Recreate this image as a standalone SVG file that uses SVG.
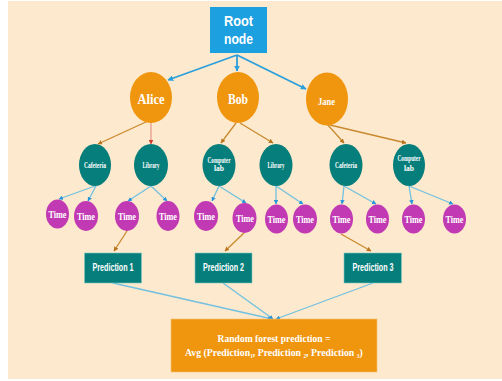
<svg xmlns="http://www.w3.org/2000/svg" width="502" height="381" viewBox="0 0 502 381">
  <style>
    .root { fill: #1CA0E0; }
    .lvl1 { fill: #F0960E; }
    .lvl2 { fill: #067E7B; }
    .lvl3 { fill: #C13AB3; }
    .pred { fill: #067E7B; stroke: #7FC9C6; stroke-width: 0.6; }
    .final { fill: #F0960E; stroke: #F7C37A; stroke-width: 0.6; }
    .sans { font-family: "Liberation Sans", Arial, sans-serif; font-weight: bold; fill: #FFFFFF; }
    .serif { font-family: "Liberation Serif", "Times New Roman", serif; font-weight: bold; fill: #FFFFFF; }
    .blue { stroke: #2A9FDD; stroke-width: 1.8; fill: none; }
    .brown { stroke: #C9892E; stroke-width: 1.3; fill: none; }
    .red { stroke: #E8958A; stroke-width: 1.2; fill: none; }
    .lblue { stroke: #72C1E0; stroke-width: 1.3; fill: none; }
  </style>
  <defs>
    <marker id="hBlue" viewBox="0 0 10 10" refX="9" refY="5" markerWidth="3.2" markerHeight="3.2" orient="auto" markerUnits="strokeWidth">
      <path d="M0,0 L10,5 L0,10 z" fill="#2A9FDD"/>
    </marker>
    <marker id="hBrown" viewBox="0 0 10 10" refX="9" refY="5" markerWidth="3.6" markerHeight="3.6" orient="auto" markerUnits="strokeWidth">
      <path d="M0,0 L10,5 L0,10 z" fill="#B8741C"/>
    </marker>
    <marker id="hRed" viewBox="0 0 10 10" refX="9" refY="5" markerWidth="3.8" markerHeight="3.8" orient="auto" markerUnits="strokeWidth">
      <path d="M0,0 L10,5 L0,10 z" fill="#D23A2A"/>
    </marker>
    <marker id="hLBlue" viewBox="0 0 10 10" refX="9" refY="5" markerWidth="3.4" markerHeight="3.4" orient="auto" markerUnits="strokeWidth">
      <path d="M0,0 L10,5 L0,10 z" fill="#2A95D8"/>
    </marker>
  </defs>

  <!-- backdrop -->
  <rect x="8" y="1" width="494" height="378" fill="#FDE9CD"/>

  <!-- connectors -->
  <g id="connectors">
    <line class="blue" x1="237" y1="55" x2="168" y2="80" marker-end="url(#hBlue)"/>
    <line class="blue" x1="237" y1="55" x2="237" y2="71" marker-end="url(#hBlue)"/>
    <line class="blue" x1="237" y1="55" x2="306" y2="89" marker-end="url(#hBlue)"/>

    <line class="brown" x1="148" y1="121" x2="98" y2="144" marker-end="url(#hBrown)"/>
    <line class="red" x1="151" y1="122" x2="151" y2="144" marker-end="url(#hRed)"/>
    <line class="brown" x1="236" y1="123" x2="221" y2="143" marker-end="url(#hBrown)"/>
    <line class="brown" x1="240" y1="123" x2="273" y2="143" marker-end="url(#hBrown)"/>
    <line class="brown" x1="327" y1="124" x2="344" y2="143" marker-end="url(#hBrown)"/>
    <line class="brown" x1="330" y1="125" x2="406" y2="143" marker-end="url(#hBrown)"/>

    <line class="lblue" x1="95" y1="186" x2="59" y2="199" marker-end="url(#hLBlue)"/>
    <line class="lblue" x1="96" y1="186" x2="88" y2="201" marker-end="url(#hLBlue)"/>
    <line class="lblue" x1="151" y1="186" x2="128" y2="201" marker-end="url(#hLBlue)"/>
    <line class="lblue" x1="151" y1="186" x2="167" y2="201" marker-end="url(#hLBlue)"/>
    <line class="lblue" x1="219" y1="186" x2="212" y2="201" marker-end="url(#hLBlue)"/>
    <line class="lblue" x1="219" y1="186" x2="246" y2="203" marker-end="url(#hLBlue)"/>
    <line class="lblue" x1="276" y1="186" x2="276" y2="204" marker-end="url(#hLBlue)"/>
    <line class="lblue" x1="276" y1="186" x2="303" y2="204" marker-end="url(#hLBlue)"/>
    <line class="lblue" x1="344" y1="186" x2="342" y2="204" marker-end="url(#hLBlue)"/>
    <line class="lblue" x1="344" y1="186" x2="376" y2="204" marker-end="url(#hLBlue)"/>
    <line class="lblue" x1="409" y1="186" x2="412" y2="204" marker-end="url(#hLBlue)"/>
    <line class="lblue" x1="409" y1="186" x2="453" y2="204" marker-end="url(#hLBlue)"/>

    <line class="brown" x1="127" y1="231" x2="114" y2="251" marker-end="url(#hBrown)"/>
    <line class="brown" x1="244" y1="233" x2="225" y2="251" marker-end="url(#hBrown)"/>
    <line class="brown" x1="341" y1="234" x2="371" y2="251" marker-end="url(#hBrown)"/>

    <line class="lblue" x1="113" y1="283" x2="272" y2="319" marker-end="url(#hLBlue)"/>
    <line class="lblue" x1="223" y1="283" x2="273" y2="319" marker-end="url(#hLBlue)"/>
    <line class="lblue" x1="373" y1="283" x2="276" y2="319" marker-end="url(#hLBlue)"/>
  </g>

  <!-- root -->
  <g id="root-node">
    <rect class="root" x="210" y="7" width="57" height="46"/>
    <text class="sans" x="238.5" y="26" font-size="15" text-anchor="middle" textLength="29" lengthAdjust="spacingAndGlyphs">Root</text>
    <text class="sans" x="238.5" y="44" font-size="15" text-anchor="middle" textLength="29" lengthAdjust="spacingAndGlyphs">node</text>
  </g>

  <!-- first level -->
  <g id="alice">
    <ellipse class="lvl1" cx="151" cy="97.5" rx="21" ry="25.5"/>
    <text class="serif" x="151" y="104" font-size="14" text-anchor="middle" textLength="27" lengthAdjust="spacingAndGlyphs">Alice</text>
  </g>
  <g id="bob">
    <ellipse class="lvl1" cx="238" cy="97.5" rx="21" ry="25.5"/>
    <text class="serif" x="238" y="104" font-size="14" text-anchor="middle" textLength="20" lengthAdjust="spacingAndGlyphs">Bob</text>
  </g>
  <g id="jane">
    <ellipse class="lvl1" cx="327" cy="99" rx="21" ry="26.5"/>
    <text class="serif" x="326.5" y="105" font-size="9.5" text-anchor="middle" textLength="17" lengthAdjust="spacingAndGlyphs">Jane</text>
  </g>

  <!-- second level -->
  <g id="alice-cafeteria">
    <ellipse class="lvl2" cx="95" cy="165" rx="16" ry="21"/>
    <text class="serif" x="95" y="168" font-size="7.5" text-anchor="middle" textLength="22" lengthAdjust="spacingAndGlyphs">Cafeteria</text>
  </g>
  <g id="alice-library">
    <ellipse class="lvl2" cx="151" cy="165" rx="17" ry="21"/>
    <text class="serif" x="151" y="168" font-size="7.5" text-anchor="middle" textLength="17" lengthAdjust="spacingAndGlyphs">Library</text>
  </g>
  <g id="bob-computer-lab">
    <ellipse class="lvl2" cx="219" cy="165" rx="16.5" ry="21"/>
    <text class="serif" x="219" y="163" font-size="7.5" text-anchor="middle" textLength="23" lengthAdjust="spacingAndGlyphs">Computer</text>
    <text class="serif" x="219" y="171" font-size="7.5" text-anchor="middle">lab</text>
  </g>
  <g id="bob-library">
    <ellipse class="lvl2" cx="276" cy="165" rx="16.5" ry="21"/>
    <text class="serif" x="276" y="168" font-size="7.5" text-anchor="middle" textLength="17" lengthAdjust="spacingAndGlyphs">Library</text>
  </g>
  <g id="jane-cafeteria">
    <ellipse class="lvl2" cx="346" cy="165" rx="16.5" ry="21"/>
    <text class="serif" x="346" y="168" font-size="7.5" text-anchor="middle" textLength="22" lengthAdjust="spacingAndGlyphs">Cafeteria</text>
  </g>
  <g id="jane-computer-lab">
    <ellipse class="lvl2" cx="409" cy="165" rx="16" ry="21"/>
    <text class="serif" x="409" y="161" font-size="7.5" text-anchor="middle" textLength="23" lengthAdjust="spacingAndGlyphs">Computer</text>
    <text class="serif" x="409" y="171" font-size="7.5" text-anchor="middle">lab</text>
  </g>

  <!-- third level -->
  <g id="time-1"><ellipse class="lvl3" cx="57.5" cy="214" rx="11.5" ry="14.5"/><text class="serif" x="57.5" y="218" font-size="10" text-anchor="middle" textLength="18" lengthAdjust="spacingAndGlyphs">Time</text></g>
  <g id="time-2"><ellipse class="lvl3" cx="86" cy="216" rx="12" ry="15"/><text class="serif" x="86" y="220" font-size="10" text-anchor="middle" textLength="18" lengthAdjust="spacingAndGlyphs">Time</text></g>
  <g id="time-3"><ellipse class="lvl3" cx="127" cy="216" rx="12" ry="15"/><text class="serif" x="127" y="220" font-size="10" text-anchor="middle" textLength="18" lengthAdjust="spacingAndGlyphs">Time</text></g>
  <g id="time-4"><ellipse class="lvl3" cx="168" cy="216" rx="11.5" ry="15"/><text class="serif" x="168" y="220" font-size="10" text-anchor="middle" textLength="18" lengthAdjust="spacingAndGlyphs">Time</text></g>
  <g id="time-5"><ellipse class="lvl3" cx="206" cy="216" rx="12" ry="15"/><text class="serif" x="206" y="220" font-size="10" text-anchor="middle" textLength="18" lengthAdjust="spacingAndGlyphs">Time</text></g>
  <g id="time-6"><ellipse class="lvl3" cx="244.5" cy="218" rx="12" ry="15"/><text class="serif" x="245" y="222" font-size="10" text-anchor="middle" textLength="18" lengthAdjust="spacingAndGlyphs">Time</text></g>
  <g id="time-7"><ellipse class="lvl3" cx="276.5" cy="219" rx="11.5" ry="14.5"/><text class="serif" x="276.5" y="223" font-size="10" text-anchor="middle" textLength="18" lengthAdjust="spacingAndGlyphs">Time</text></g>
  <g id="time-8"><ellipse class="lvl3" cx="305" cy="219" rx="12" ry="14.5"/><text class="serif" x="305" y="223" font-size="10" text-anchor="middle" textLength="18" lengthAdjust="spacingAndGlyphs">Time</text></g>
  <g id="time-9"><ellipse class="lvl3" cx="341.5" cy="219" rx="11.5" ry="14.5"/><text class="serif" x="341.5" y="223" font-size="10" text-anchor="middle" textLength="18" lengthAdjust="spacingAndGlyphs">Time</text></g>
  <g id="time-10"><ellipse class="lvl3" cx="377.5" cy="219" rx="11.5" ry="14.5"/><text class="serif" x="377.5" y="223" font-size="10" text-anchor="middle" textLength="18" lengthAdjust="spacingAndGlyphs">Time</text></g>
  <g id="time-11"><ellipse class="lvl3" cx="413.5" cy="219" rx="11.5" ry="14.5"/><text class="serif" x="413.5" y="223" font-size="10" text-anchor="middle" textLength="18" lengthAdjust="spacingAndGlyphs">Time</text></g>
  <g id="time-12"><ellipse class="lvl3" cx="454.5" cy="219" rx="11.5" ry="14.5"/><text class="serif" x="454.5" y="223" font-size="10" text-anchor="middle" textLength="18" lengthAdjust="spacingAndGlyphs">Time</text></g>

  <!-- predictions -->
  <g id="prediction-1">
    <rect class="pred" x="84.5" y="253" width="57" height="30"/>
    <text class="sans" x="113" y="271" font-size="10" text-anchor="middle" textLength="41" lengthAdjust="spacingAndGlyphs">Prediction 1</text>
  </g>
  <g id="prediction-2">
    <rect class="pred" x="195" y="253" width="57" height="30"/>
    <text class="sans" x="223.5" y="271" font-size="10" text-anchor="middle" textLength="41" lengthAdjust="spacingAndGlyphs">Prediction 2</text>
  </g>
  <g id="prediction-3">
    <rect class="pred" x="344" y="253" width="57.5" height="30"/>
    <text class="sans" x="373" y="271" font-size="10" text-anchor="middle" textLength="41" lengthAdjust="spacingAndGlyphs">Prediction 3</text>
  </g>

  <!-- aggregate -->
  <g id="random-forest-prediction">
    <rect class="final" x="171" y="319" width="206" height="53"/>
    <text class="serif" x="274" y="342" font-size="11" text-anchor="middle" textLength="113" lengthAdjust="spacingAndGlyphs">Random forest prediction =</text>
    <!-- formula line, narrowed horizontally so subscripts keep their natural flow -->
    <text class="serif" transform="translate(185 356) scale(0.89 1)" x="0" y="0" font-size="11">Avg (Prediction<tspan font-size="6" dy="2">1</tspan><tspan dy="-2">, Prediction </tspan><tspan font-size="6" dy="2">2</tspan><tspan dy="-2">, Prediction </tspan><tspan font-size="6" dy="2">3</tspan><tspan dy="-2">)</tspan></text>
  </g>
</svg>
